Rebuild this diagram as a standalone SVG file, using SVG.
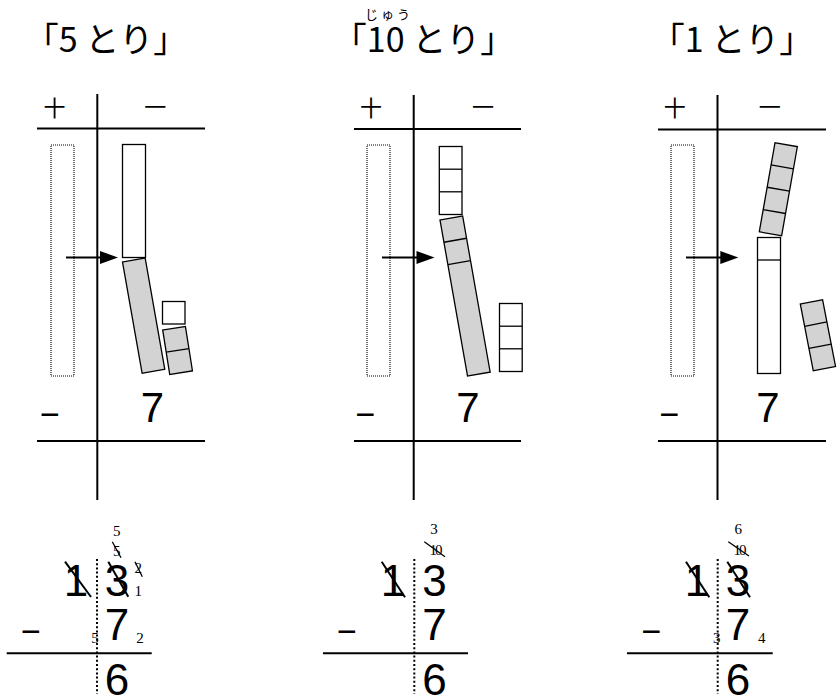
<svg xmlns="http://www.w3.org/2000/svg" width="837" height="699" viewBox="0 0 837 699">
<style>
.ln{stroke:#000;stroke-width:2;fill:none}
.blk{stroke:#000;stroke-width:1.3;fill:#fff}
.gry{fill:#d3d3d3}
.dv{stroke:#000;stroke-width:1.3}
.dr{stroke:#000;stroke-width:1.1;fill:none;stroke-dasharray:1 1}
.dl{stroke:#000;stroke-width:2;stroke-dasharray:2 2.2}
.sl{stroke:#000;stroke-width:2}
.ss{stroke:#000;stroke-width:1.3}
text{fill:#000}
.hd{font-family:"Noto Sans CJK JP",sans-serif;font-size:34px;text-anchor:middle}
.rb{font-family:"Noto Sans CJK JP",sans-serif;font-size:13px;text-anchor:middle;letter-spacing:3px}
.kj{font-family:"Noto Sans CJK JP",sans-serif;font-size:22px;text-anchor:middle}
.big{font-family:"Liberation Sans",sans-serif;font-size:44px;text-anchor:middle}
.pn{font-family:"Liberation Sans",sans-serif;font-size:42px;text-anchor:middle}
.mn{font-family:"Liberation Sans",sans-serif;font-size:34px;text-anchor:middle}
.sm{font-family:"Liberation Serif",serif;font-size:15px;text-anchor:middle}
</style>
<defs>
<polygon id="ah" points="0,0 -18,-6.5 -18,6.5" fill="#000"/>
</defs>

<!-- Panel 1 -->
<g id="panel1">
<text class="hd" x="106" y="52">「5 とり」</text>
<line class="ln" x1="97.3" y1="94" x2="97.3" y2="500"/>
<line class="ln" x1="37" y1="128.5" x2="205" y2="128.5"/>
<line class="ln" x1="37" y1="441" x2="205" y2="441"/>
<text class="kj" x="54.5" y="116">十</text>
<text class="kj" x="155.3" y="115">一</text>
<rect class="dr" x="51" y="145" width="23" height="231"/>
<line class="ln" x1="66" y1="257.5" x2="104" y2="257.5"/>
<use href="#ah" x="118" y="257.5"/>
<rect class="blk" x="122.5" y="144.5" width="23" height="113"/>
<g transform="translate(122.5,262) rotate(-10)">
<rect class="blk gry" x="0" y="0" width="23" height="113"/>
</g>
<rect class="blk" x="162.5" y="301.5" width="22.5" height="22.5"/>
<g transform="translate(162.7,330) rotate(-9)">
<rect class="blk gry" x="0" y="0" width="23" height="45"/>
<line class="dv" x1="0" y1="22.5" x2="23" y2="22.5"/>
</g>
<text class="mn" x="50" y="426">−</text>
<text class="pn" x="152.5" y="422.3">7</text>
</g>

<!-- Panel 2 -->
<g id="panel2">
<text class="rb" x="389" y="19">じゅう</text>
<text class="hd" x="423.5" y="52">「10 とり」</text>
<line class="ln" x1="413.7" y1="95" x2="413.7" y2="500"/>
<line class="ln" x1="354" y1="129" x2="521" y2="129"/>
<line class="ln" x1="354" y1="441" x2="521" y2="441"/>
<text class="kj" x="371" y="116">十</text>
<text class="kj" x="483" y="115">一</text>
<rect class="dr" x="367" y="145" width="23" height="231"/>
<line class="ln" x1="382" y1="257.5" x2="420" y2="257.5"/>
<use href="#ah" x="434.5" y="257.5"/>
<rect class="blk" x="439.3" y="146.5" width="22.7" height="68"/>
<line class="dv" x1="439.3" y1="169.2" x2="462" y2="169.2"/>
<line class="dv" x1="439.3" y1="191.8" x2="462" y2="191.8"/>
<g transform="translate(440,220) rotate(-10)">
<rect class="blk gry" x="0" y="0" width="23" height="158.5"/>
<line class="dv" x1="0" y1="22.6" x2="23" y2="22.6"/>
<line class="dv" x1="0" y1="45.3" x2="23" y2="45.3"/>
</g>
<rect class="blk" x="499.5" y="303.5" width="22.7" height="68"/>
<line class="dv" x1="499.5" y1="326.2" x2="522.2" y2="326.2"/>
<line class="dv" x1="499.5" y1="348.8" x2="522.2" y2="348.8"/>
<text class="mn" x="365.5" y="426">−</text>
<text class="pn" x="468" y="422.3">7</text>
</g>

<!-- Panel 3 -->
<g id="panel3">
<text class="hd" x="732" y="52">「1 とり」</text>
<line class="ln" x1="717.5" y1="95" x2="717.5" y2="500"/>
<line class="ln" x1="658" y1="129.5" x2="826" y2="129.5"/>
<line class="ln" x1="658" y1="441" x2="826" y2="441"/>
<text class="kj" x="674.7" y="116">十</text>
<text class="kj" x="769.7" y="115">一</text>
<rect class="dr" x="671" y="145" width="23" height="231"/>
<line class="ln" x1="686" y1="257.5" x2="724" y2="257.5"/>
<use href="#ah" x="738.3" y="257.5"/>
<g transform="translate(775,142.7) rotate(10)">
<rect class="blk gry" x="0" y="0" width="22.7" height="90.5"/>
<line class="dv" x1="0" y1="22.6" x2="22.7" y2="22.6"/>
<line class="dv" x1="0" y1="45.25" x2="22.7" y2="45.25"/>
<line class="dv" x1="0" y1="67.9" x2="22.7" y2="67.9"/>
</g>
<rect class="blk" x="757.5" y="237.5" width="23" height="136"/>
<line class="dv" x1="757.5" y1="260" x2="780.5" y2="260"/>
<g transform="translate(800.3,304) rotate(-11)">
<rect class="blk gry" x="0" y="0" width="22.7" height="68"/>
<line class="dv" x1="0" y1="22.7" x2="22.7" y2="22.7"/>
<line class="dv" x1="0" y1="45.3" x2="22.7" y2="45.3"/>
</g>
<text class="mn" x="669.5" y="426">−</text>
<text class="pn" x="768" y="422.3">7</text>
</g>

<!-- Calculation 1 -->
<g id="calc1">
<line class="dl" x1="97" y1="559" x2="97" y2="694"/>
<text class="sm" x="116.7" y="536">5</text>
<text class="sm" x="116.7" y="556">5</text>
<line class="ss" x1="112.3" y1="541.7" x2="121" y2="557.7"/>
<text class="big" x="76" y="596">1</text>
<line class="sl" x1="65" y1="561.7" x2="91" y2="597"/>
<text class="big" x="117" y="596">3</text>
<line class="sl" x1="108.3" y1="561.7" x2="128.3" y2="596.7"/>
<text class="sm" x="138.3" y="573">2</text>
<line class="ss" x1="135" y1="561.7" x2="142.3" y2="576.7"/>
<text class="sm" x="138.3" y="596">1</text>
<text class="mn" x="31" y="643">−</text>
<text class="sm" x="95" y="643">5</text>
<text class="big" x="117" y="640">7</text>
<text class="sm" x="140" y="643">2</text>
<line class="ln" x1="6.7" y1="653.3" x2="151.7" y2="653.3"/>
<text class="big" x="117" y="695">6</text>
</g>

<!-- Calculation 2 -->
<g id="calc2">
<line class="dl" x1="414.3" y1="559" x2="414.3" y2="694"/>
<text class="sm" x="434" y="534">3</text>
<text class="sm" x="435" y="555" letter-spacing="-2">10</text>
<line class="ss" x1="424.3" y1="541.7" x2="445" y2="556.7"/>
<text class="big" x="393" y="596">1</text>
<line class="sl" x1="381.7" y1="561.7" x2="405" y2="597.3"/>
<text class="big" x="434.5" y="596">3</text>
<text class="mn" x="347" y="643">−</text>
<text class="big" x="434.5" y="640">7</text>
<line class="ln" x1="323" y1="653.3" x2="468" y2="653.3"/>
<text class="big" x="434.5" y="695">6</text>
</g>

<!-- Calculation 3 -->
<g id="calc3">
<line class="dl" x1="717.7" y1="559" x2="717.7" y2="694"/>
<text class="sm" x="738.3" y="534">6</text>
<text class="sm" x="739" y="555" letter-spacing="-2">10</text>
<line class="ss" x1="728.3" y1="541.7" x2="749" y2="556"/>
<text class="big" x="697" y="596">1</text>
<line class="sl" x1="686" y1="561.7" x2="709.3" y2="597.3"/>
<text class="big" x="738" y="596">3</text>
<line class="sl" x1="727.3" y1="561.7" x2="750" y2="597.3"/>
<text class="mn" x="651.5" y="643">−</text>
<text class="sm" x="716.7" y="643">3</text>
<text class="big" x="738" y="640">7</text>
<text class="sm" x="761.7" y="643">4</text>
<line class="ln" x1="627" y1="653.3" x2="772.7" y2="653.3"/>
<text class="big" x="738" y="695">6</text>
</g>
</svg>
